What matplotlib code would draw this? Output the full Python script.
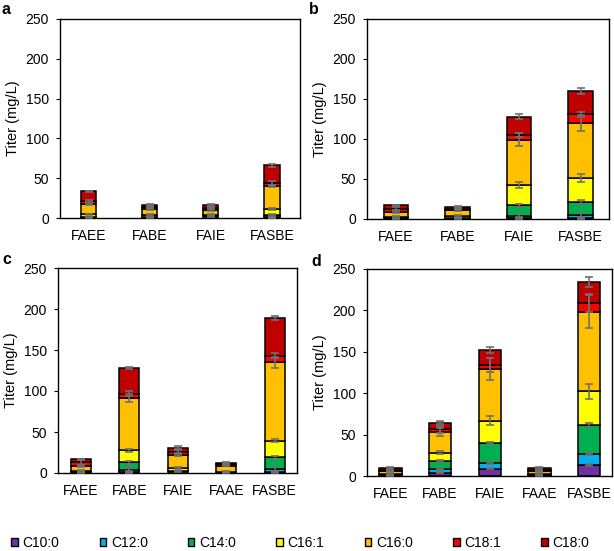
import numpy as np
import matplotlib
matplotlib.use('Agg')
import matplotlib.pyplot as plt
from matplotlib.patches import Patch

plt.rcParams['font.family'] = ['Liberation Sans', 'DejaVu Sans']

# Fatty acid species and colours
species = ['C10:0', 'C12:0', 'C14:0', 'C16:1', 'C16:0', 'C18:1', 'C18:0']
colors = ['#7030A0', '#00B0F0', '#00B050', '#FFFF00', '#FFC000', '#FF0000', '#C00000']

# Panel a
cats_a = ['FAEE', 'FABE', 'FAIE', 'FASBE']
vals_a = [[0, 0, 0, 0.5],
          [0, 0, 0, 0.5],
          [1, 1, 2, 3],
          [3.5, 3, 2, 7],
          [12.5, 7.5, 6, 29.5],
          [4, 2, 3, 4],
          [12.5, 3, 3, 21.5]]
err_a = [[0, 0, 0, 0.5],
         [0, 0, 0, 0.5],
         [0.5, 0.5, 0.5, 1],
         [1, 1, 0.5, 1.5],
         [1, 1, 1, 1.5],
         [1.5, 1, 1, 2.5],
         [1, 1, 1, 1.5]]

# Panel b
cats_b = ['FAEE', 'FABE', 'FAIE', 'FASBE']
vals_b = [[0, 0, 1, 1],
          [0, 0, 3, 4],
          [1, 1, 13, 16.5],
          [2, 3, 25.5, 30],
          [6, 7, 56.5, 69],
          [4, 2, 6, 10.5],
          [4, 2.5, 23, 29]]
err_b = [[0, 0, 0.5, 0.5],
         [0, 0, 2, 2],
         [0.5, 0.5, 2, 2.5],
         [1, 1, 4, 5],
         [1, 1, 8, 10],
         [2, 1, 3, 3],
         [1, 1, 3, 4]]

# Panel c
cats_c = ['FAEE', 'FABE', 'FAIE', 'FAAE', 'FASBE']
vals_c = [[0, 1, 0, 0, 1],
          [0, 3, 0, 0, 4],
          [1, 9, 2, 0.5, 14],
          [2, 14.5, 4, 1, 20.5],
          [5, 64, 16, 7.5, 95.5],
          [5, 5, 4, 1.5, 8],
          [3.5, 31.5, 5, 2.2, 46]]
err_c = [[0, 0.5, 0, 0, 0.5],
         [0, 2, 0, 0, 2],
         [0.5, 2, 0.5, 0.3, 2],
         [0.5, 2, 1, 0.5, 2],
         [1, 5, 1.5, 1, 7],
         [3, 3, 2, 1, 3],
         [1, 1, 1.5, 1, 2]]

# Panel d
cats_d = ['FAEE', 'FABE', 'FAIE', 'FAAE', 'FASBE']
vals_d = [[0, 4, 9, 0, 13],
          [0, 4, 7, 0, 13.5],
          [1, 10, 24, 1, 35],
          [1, 10, 27, 1, 41],
          [3.5, 25, 62, 3.5, 96],
          [1.5, 3.5, 5, 1.5, 10],
          [2.7, 8, 18, 2.7, 25.5]]
err_d = [[0, 0.5, 1, 0, 1],
         [0, 1, 1.5, 0, 1.5],
         [0.5, 1.5, 1.5, 0.5, 2],
         [0.5, 2, 6, 0.5, 9],
         [0.5, 5, 13, 0.5, 20],
         [0.5, 4, 8, 0.5, 11],
         [1, 2, 4, 1, 6]]

W, H = 614, 551
fig = plt.figure(figsize=(W / 100, H / 100), dpi=100)


def px_axes(x0, y0, x1, y1):
    return fig.add_axes([x0 / W, 1 - y1 / H, (x1 - x0) / W, (y1 - y0) / H])


def draw_panel(ax, cats, vals, errs, width, letter, lx, ly):
    x = np.arange(len(cats))
    bottom = np.zeros(len(cats))
    for i in range(len(species)):
        v = np.array(vals[i], dtype=float)
        e = np.array(errs[i], dtype=float)
        ax.bar(x, v, width, bottom=bottom, color=colors[i], edgecolor='black',
               linewidth=1.1, zorder=2)
        top = bottom + v
        mask = v > 0
        ax.errorbar(x[mask], top[mask], yerr=e[mask], fmt='none', ecolor='#707070',
                    elinewidth=1.2, capsize=3, capthick=1.2, zorder=3)
        bottom = top
    ax.set_xlim(-0.47, len(cats) - 0.54)
    ax.set_ylim(0, 250)
    ax.set_yticks([0, 50, 100, 150, 200, 250])
    ax.set_xticks(x)
    ax.set_xticklabels(cats, fontsize=10)
    ax.tick_params(axis='x', length=0, pad=8)
    ax.tick_params(axis='y', labelsize=10, length=3, direction='out', pad=5)
    ax.set_ylabel('Titer (mg/L)', fontsize=10.5, labelpad=4)
    for s in ax.spines.values():
        s.set_linewidth(1.0)
    fig.text(lx / W, 1 - ly / H, letter, fontsize=11.5, fontweight='bold', va='top', ha='left')


ax_a = px_axes(60, 19, 300, 218)
draw_panel(ax_a, cats_a, vals_a, err_a, 0.25, 'a', 2, 2)
ax_b = px_axes(367, 19, 609, 219)
draw_panel(ax_b, cats_b, vals_b, err_b, 0.4, 'b', 309, 2)
ax_c = px_axes(58, 268, 297, 473)
draw_panel(ax_c, cats_c, vals_c, err_c, 0.42, 'c', 2, 252)
ax_d = px_axes(367, 269, 612, 476)
draw_panel(ax_d, cats_d, vals_d, err_d, 0.45, 'd', 311, 254)

handles = [Patch(facecolor=c, edgecolor='black', linewidth=1.0) for c in colors]
fig.legend(handles, species, loc='center left', bbox_to_anchor=(0.0, 1 - 543 / H),
           ncol=7, frameon=False, fontsize=10, handlelength=0.46, handleheight=0.46,
           handletextpad=0.35, columnspacing=2.9, borderaxespad=0.4)

fig.savefig('out.png', dpi=100)
